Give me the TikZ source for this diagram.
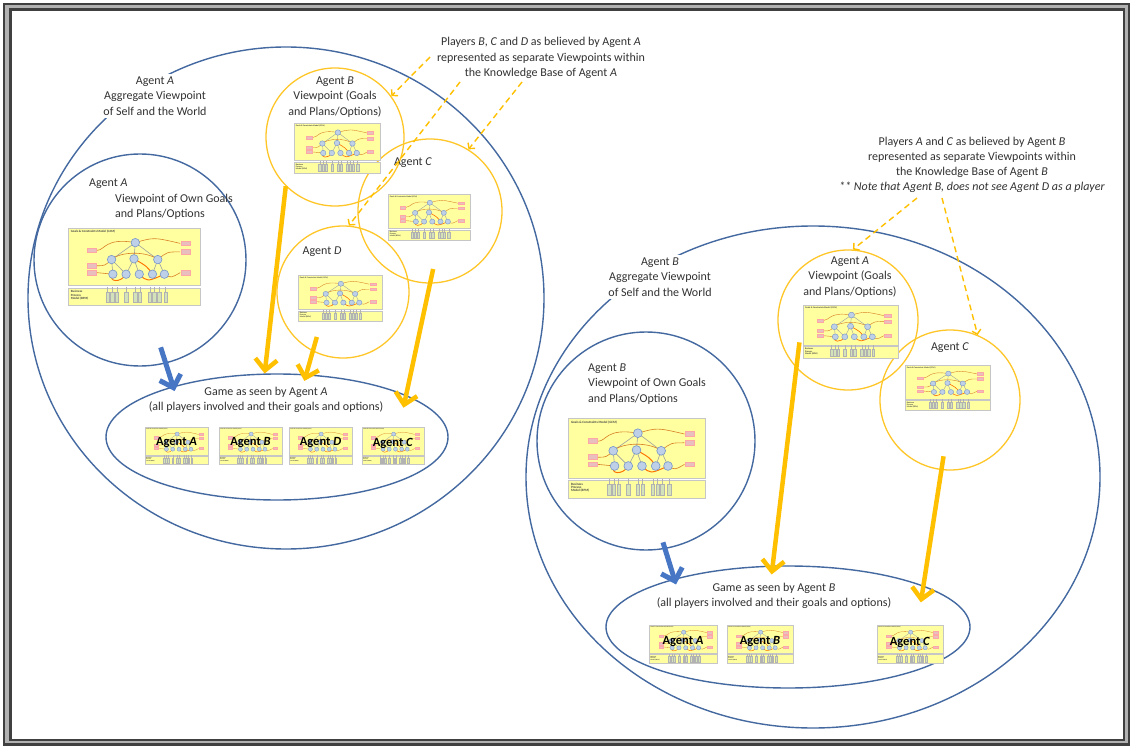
\documentclass[tikz,border=0pt]{standalone}
\usepackage{fontspec}
\setmainfont{Carlito}
\usetikzlibrary{arrows.meta,shapes.geometric}

\definecolor{rim}{RGB}{68,104,160}
\definecolor{gold}{RGB}{255,192,0}
\definecolor{ringgold}{RGB}{255,198,40}
\definecolor{flowblue}{RGB}{70,118,196}
\definecolor{pale}{RGB}{255,255,160}
\definecolor{bubble}{RGB}{190,208,232}
\definecolor{bubbleline}{RGB}{120,150,200}
\definecolor{pinkbox}{RGB}{232,190,190}
\definecolor{bpmbox}{RGB}{212,226,186}
\definecolor{ink}{RGB}{50,50,50}
\definecolor{frameline}{RGB}{64,64,64}

% miniature goals & constraints model: #1,#2 top-left corner, #3 width, #4 height
\newcommand\gcmthumb[4]{%
\pgfmathsetmacro\thfs{#3*0.024}%
\pgfmathsetmacro\thlw{#3*0.0045}%
\begin{scope}[shift={(#1,#2)},x={(#3pt,0pt)},y={(0pt,-#4pt)},line width=\thlw pt]
 \filldraw[fill=pale,draw=gray!45] (0,0) rectangle (1,0.75);
 \filldraw[fill=pale,draw=gray!45] (0,0.78) rectangle (1,1);
 \node[anchor=north west,inner sep=0pt,text=gray!55!black,font=\fontsize{\thfs}{\thfs}\selectfont\bfseries] at (0.02,0.03) {Goals \& Constraints Model (GCM)};
 \node[anchor=north west,inner sep=0pt,align=left,text=gray!55!black,font=\fontsize{\thfs}{\thfs}\selectfont\bfseries] at (0.02,0.81) {Business\\Process\\Model (BPM)};
 % tree links
 \draw[gray!75] (0.51,0.19) -- (0.33,0.41) (0.51,0.19) -- (0.5,0.4) (0.51,0.19) -- (0.68,0.41)
   (0.33,0.41) -- (0.34,0.6) (0.33,0.41) -- (0.44,0.6) (0.5,0.4) -- (0.44,0.6)
   (0.5,0.4) -- (0.54,0.6) (0.68,0.41) -- (0.64,0.6) (0.68,0.41) -- (0.73,0.6);
 % influence curves
 \draw[brown!60!orange] (0.22,0.29) .. controls (0.28,0.29) and (0.28,0.12) .. (0.51,0.19)
   (0.51,0.19) .. controls (0.65,0.12) .. (0.85,0.2)
   (0.22,0.49) .. controls (0.28,0.49) .. (0.33,0.41)
   (0.85,0.31) .. controls (0.75,0.31) .. (0.68,0.41)
   (0.22,0.58) -- (0.34,0.6)
   (0.85,0.58) .. controls (0.78,0.65) .. (0.73,0.6)
   (0.33,0.41) .. controls (0.4,0.3) and (0.6,0.3) .. (0.68,0.41);
 \draw[orange!90!red,line width=1.6*\thlw pt] (0.5,0.4) .. controls (0.6,0.5) .. (0.64,0.6)
   (0.44,0.6) .. controls (0.4,0.72) and (0.3,0.7) .. (0.34,0.6)
   (0.54,0.6) .. controls (0.6,0.7) .. (0.73,0.6);
 % goal bubbles
 \foreach \bx/\by in {0.51/0.19,0.33/0.41,0.5/0.4,0.68/0.41,0.34/0.6,0.44/0.6,0.54/0.6,0.64/0.6,0.73/0.6}
   \filldraw[fill=bubble,draw=bubbleline] (\bx,\by) ellipse [x radius=0.032, y radius=0.055];
 % external factors
 \foreach \bx/\by in {0.18/0.29,0.18/0.49,0.18/0.58,0.89/0.2,0.89/0.31,0.89/0.58}
   \filldraw[fill=pinkbox,draw=red!35] (\bx-0.035,\by-0.03) rectangle (\bx+0.035,\by+0.03);
 % process activities
 \foreach \bx in {0.3,0.335,0.37,0.44,0.51,0.545,0.62,0.655,0.69,0.74}{
   \draw[gray!60] (\bx,0.76) -- (\bx,0.83);
   \filldraw[fill=bpmbox,draw=gray!60] (\bx-0.013,0.83) rectangle (\bx+0.013,0.97);}
\end{scope}}

\begin{document}
\begin{tikzpicture}[x=1pt,y=-1pt,
  every node/.style={text=ink},
  txt/.style={font=\fontsize{12}{15.2}\selectfont, align=center, inner sep=1pt},
  bluering/.style={draw=rim, line width=1.4pt, ellipse, inner sep=0pt},
  goldring/.style={draw=ringgold, line width=1.3pt, circle, inner sep=0pt},
  fatblue/.style={draw=flowblue, line width=5pt, -{Straight Barb[length=11pt,width=22pt]}},
  fatgold/.style={draw=gold, line width=4.5pt, -{Straight Barb[length=11pt,width=22pt]}},
  dasharrow/.style={draw=gold, line width=1.4pt, dash pattern=on 6pt off 4pt, -{Straight Barb[length=4pt,width=9pt]}},
  badge/.style={font=\bfseries\fontsize{12.5}{13}\selectfont, text=black, inner sep=0pt}]

\useasboundingbox (0,0) rectangle (1130,746);
\fill[white] (0,0) rectangle (1130,746);

% double frame
\draw[line width=6pt, gray!60] (6.5,6.5) rectangle (1126.5,742);
\draw[line width=2.6pt, frameline] (4,4) rectangle (1129,744.5);
\draw[line width=2.3pt, frameline] (10.5,9.5) rectangle (1124,740);

% ================= Agent A side =================
\node[bluering, minimum width=516, minimum height=502] (worldA) at (286,298) {};
\node[bluering, minimum size=212] (ownA) at (140,260) {};
\node[goldring, minimum size=138] (vB) at (335,137) {};
\node[goldring, minimum size=144] (vC) at (430,211) {};
\node[goldring, minimum size=132] (vD) at (343,292) {};
\node[bluering, minimum width=342, minimum height=126] (gameA) at (277,437) {};

\gcmthumb{68}{228}{132}{77}
\gcmthumb{294}{123}{86}{50}
\gcmthumb{388}{194}{82}{46}
\gcmthumb{298}{275}{84}{46}
\gcmthumb{145}{427}{63}{37}
\gcmthumb{219}{427}{63}{37}
\gcmthumb{289}{427}{63}{37}
\gcmthumb{362}{427}{62}{37}

\node[badge] (bA1) at (176.5,443) {Agent \textit{A}};
\node[badge] (bB1) at (250.5,443) {Agent \textit{B}};
\node[badge] (bD1) at (320.5,443) {Agent \textit{D}};
\node[badge] (bC1) at (393,443) {Agent \textit{C}};

\node[txt, fill=white, inner sep=3pt] (lblA) at (155,96) {Agent \textit{A}\\Aggregate Viewpoint\\of Self and the World};
\node[txt, anchor=base west] (ownAt1) at (88,187) {Agent \textit{A}};
\node[txt, anchor=base west, align=left] (ownAt2) at (114,217.5) {Viewpoint of Own Goals\\and Plans/Options};
\node[txt] (vBt) at (335,97) {Agent \textit{B}\\Viewpoint (Goals\\and Plans/Options)};
\node[txt] (vCt) at (413,163) {Agent \textit{C}};
\node[txt] (vDt) at (322,252) {Agent \textit{D}};
\node[txt] (gameAt) at (266,400) {Game as seen by Agent \textit{A}\\(all players involved and their goals and options)};
\node[txt] (noteA) at (541,58) {Players \textit{B}, \textit{C} and \textit{D} as believed by Agent \textit{A}\\represented as separate Viewpoints within\\the Knowledge Base of Agent \textit{A}};

\coordinate (nA1) at (430,57);
\coordinate (nA2) at (460,82);
\coordinate (nA3) at (522,82);
\draw[dasharrow] (nA1) -- (vB.36);
\draw[dasharrow] (nA2) -- (vD.85);
\draw[dasharrow] (nA3) -- (vC.58);

\draw[fatblue, shorten <=-17pt, shorten >=-5pt] (ownA.-76) -- (gameA.154);
\draw[fatgold] (vB.-135) -- (gameA.101);
\draw[fatgold, shorten <=-15pt, shorten >=-7pt] (vD.-117) -- (gameA.65);
\draw[fatgold, shorten <=-15pt, shorten >=-13pt] (vC.-90) -- (gameA.18);

% ================= Agent B side =================
\node[bluering, minimum width=574, minimum height=502] (worldB) at (813,477) {};
\node[bluering, minimum size=218] (ownB) at (646,441) {};
\node[goldring, minimum size=140] (vA) at (848,320) {};
\node[goldring, minimum size=140] (vC2) at (950,400) {};
\node[bluering, minimum width=364, minimum height=122] (gameB) at (788,627) {};

\gcmthumb{568}{418}{137}{80}
\gcmthumb{803}{305}{95}{53}
\gcmthumb{905}{365}{85}{45}
\gcmthumb{649}{625}{68}{38}
\gcmthumb{727}{625}{66}{38}
\gcmthumb{877}{625}{66}{38}

\node[badge] (bA2) at (683,642) {Agent \textit{A}};
\node[badge] (bB2) at (760,642) {Agent \textit{B}};
\node[badge] (bC2) at (910,642) {Agent \textit{C}};

\node[txt, fill=white, inner sep=3pt] (lblB) at (660,277) {Agent \textit{B}\\Aggregate Viewpoint\\of Self and the World};
\node[txt, anchor=base west, align=left] (ownBt) at (587,402) {Agent \textit{B}\\Viewpoint of Own Goals\\and Plans/Options};
\node[txt] (vAt) at (850,277) {Agent \textit{A}\\Viewpoint (Goals\\and Plans/Options)};
\node[txt] (vC2t) at (950,348) {Agent \textit{C}};
\node[txt] (gameBt) at (774,596) {Game as seen by Agent \textit{B}\\(all players involved and their goals and options)};
\node[txt] (noteB) at (972,165) {Players \textit{A} and \textit{C}  as believed by Agent \textit{B}\\represented as separate Viewpoints within\\the Knowledge Base of Agent \textit{B}\\\textit{** Note that Agent B, does not see Agent D as a player}};

\coordinate (nB1) at (917,198);
\coordinate (nB2) at (942,198);
\draw[dasharrow] (nB1) -- (vA.86);
\draw[dasharrow] (nB2) -- (vC2.67);

\draw[fatblue, shorten <=-7pt, shorten >=-6pt] (ownB.-80) -- (gameB.157);
\draw[fatgold, shorten <=-26pt, shorten >=-9pt] (vA.-137) -- (gameB.104);
\draw[fatgold, shorten <=-14pt, shorten >=-17pt] (vC2.-97) -- (gameB.17);

\end{tikzpicture}
\end{document}
